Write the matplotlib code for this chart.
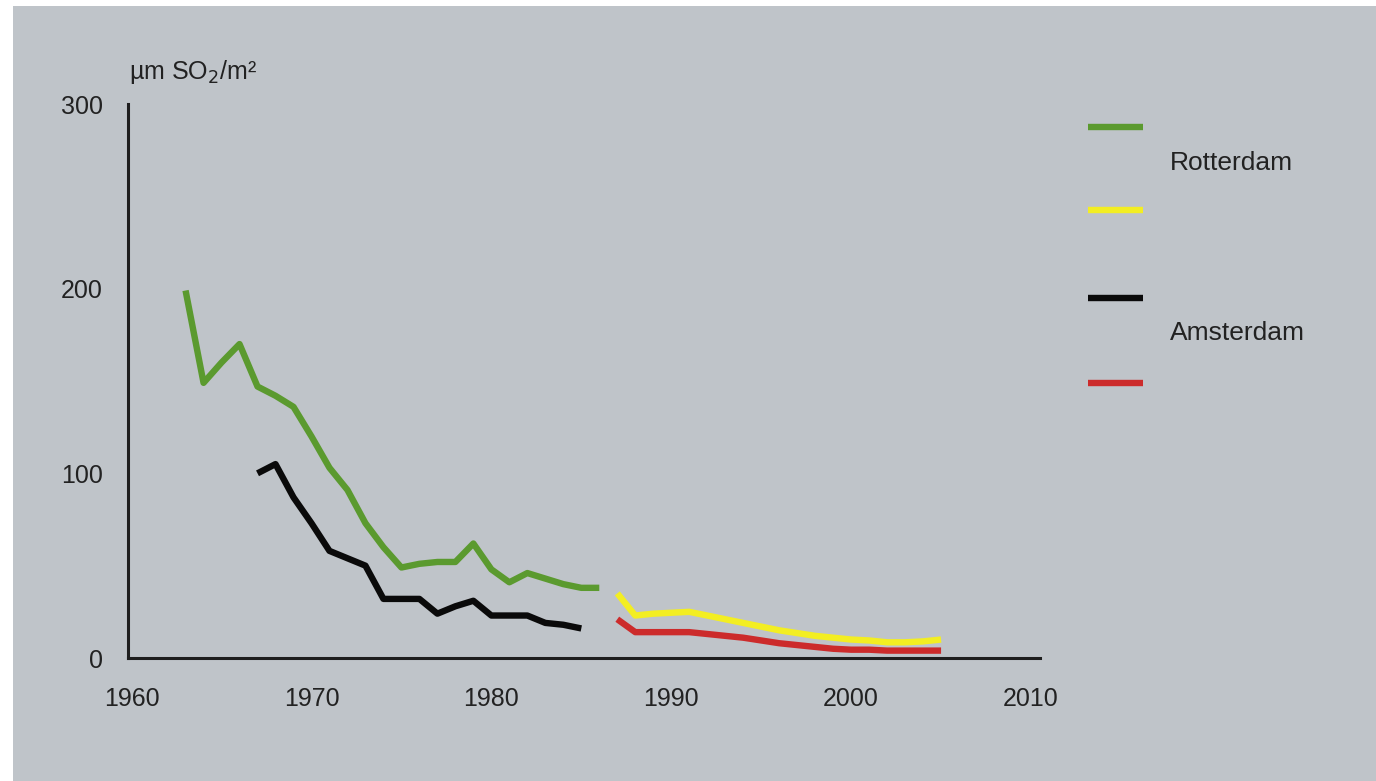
import matplotlib
matplotlib.use("Agg")
import matplotlib.pyplot as plt
from matplotlib.lines import Line2D
from matplotlib.patches import Rectangle

plt.rcParams["font.family"] = ["Liberation Sans", "DejaVu Sans"]

# Rotterdam, old series (green)
rot_old_years = [1963, 1964, 1965, 1966, 1967, 1968, 1969, 1970, 1971, 1972, 1973, 1974,
                 1975, 1976, 1977, 1978, 1979, 1980, 1981, 1982, 1983, 1984, 1985, 1986]
rot_old_vals = [199, 149, 160, 170, 147, 142, 136, 120, 103, 91, 73, 60,
                49, 51, 52, 52, 62, 48, 41, 46, 43, 40, 38, 38]

# Amsterdam, old series (black)
ams_old_years = [1967, 1968, 1969, 1970, 1971, 1972, 1973, 1974, 1975, 1976, 1977, 1978,
                 1979, 1980, 1981, 1982, 1983, 1984, 1985]
ams_old_vals = [100, 105, 87, 73, 58, 54, 50, 32, 32, 32, 24, 28,
                31, 23, 23, 23, 19, 18, 16]

# Rotterdam, new series (yellow)
rot_new_years = [1987, 1988, 1989, 1990, 1991, 1992, 1993, 1994, 1995, 1996,
                 1997, 1998, 1999, 2000, 2001, 2002, 2003, 2004, 2005]
rot_new_vals = [35, 23, 24, 24.5, 25, 23, 21, 19, 17, 15,
                13.5, 12, 11, 10, 9.5, 8.5, 8.5, 9, 10]

# Amsterdam, new series (red)
ams_new_years = [1987, 1988, 1989, 1990, 1991, 1992, 1993, 1994, 1995, 1996,
                 1997, 1998, 1999, 2000, 2001, 2002, 2003, 2004, 2005]
ams_new_vals = [21, 14, 14, 14, 14, 13, 12, 11, 9.5, 8,
                7, 6, 5, 4.5, 4.5, 4, 4, 4, 4]

x_ticks = [1960, 1970, 1980, 1990, 2000, 2010]
y_ticks = [0, 100, 200, 300]

bg = "#bfc4c9"
green = "#5b9a2f"
yellow = "#f3ee22"
black = "#0a0a0a"
red = "#cc2b2b"
text_col = "#222222"

W, H = 1376, 781
fig = plt.figure(figsize=(W / 100, H / 100), dpi=100)
fig.patch.set_facecolor("white")
fig.add_artist(Rectangle((13 / W, 0), 1 - 13 / W, 1 - 6 / H, transform=fig.transFigure,
                         facecolor=bg, edgecolor="none", zorder=0))

ax = fig.add_axes([128 / W, 1 - 658 / H, (1040 - 128) / W, (658 - 104) / H])
ax.set_facecolor("none")

lw = 4.6
ax.plot(rot_old_years, rot_old_vals, color=green, lw=lw, solid_capstyle="butt")
ax.plot(ams_old_years, ams_old_vals, color=black, lw=lw, solid_capstyle="butt")
ax.plot(rot_new_years, rot_new_vals, color=yellow, lw=lw, solid_capstyle="butt")
ax.plot(ams_new_years, ams_new_vals, color=red, lw=lw, solid_capstyle="butt")

ax.set_xlim(1959.8, 2010.5)
ax.set_ylim(0, 300)
ax.set_xticks(x_ticks)
ax.set_yticks(y_ticks)
ax.tick_params(length=0, labelsize=18, colors=text_col)
ax.tick_params(axis="x", pad=21)
ax.tick_params(axis="y", pad=18)

for s in ["top", "right"]:
    ax.spines[s].set_visible(False)
for s in ["left", "bottom"]:
    ax.spines[s].set_linewidth(2.2)
    ax.spines[s].set_color("#1e1e1e")

fig.text(129 / W, 1 - 72 / H, "µm SO$_2$/m²", fontsize=18, color=text_col,
         ha="left", va="center")

# legend
leg = [(127, green), (210, yellow), (298, black), (383, red)]
for y, c in leg:
    fig.add_artist(Line2D([1088 / W, 1143 / W], [1 - y / H, 1 - y / H],
                          transform=fig.transFigure, color=c, lw=lw, solid_capstyle="butt"))
fig.text(1170 / W, 1 - 163 / H, "Rotterdam", fontsize=19, color=text_col, ha="left", va="center")
fig.text(1170 / W, 1 - 333 / H, "Amsterdam", fontsize=19, color=text_col, ha="left", va="center")

fig.savefig("out.png", dpi=100, facecolor=fig.get_facecolor())
